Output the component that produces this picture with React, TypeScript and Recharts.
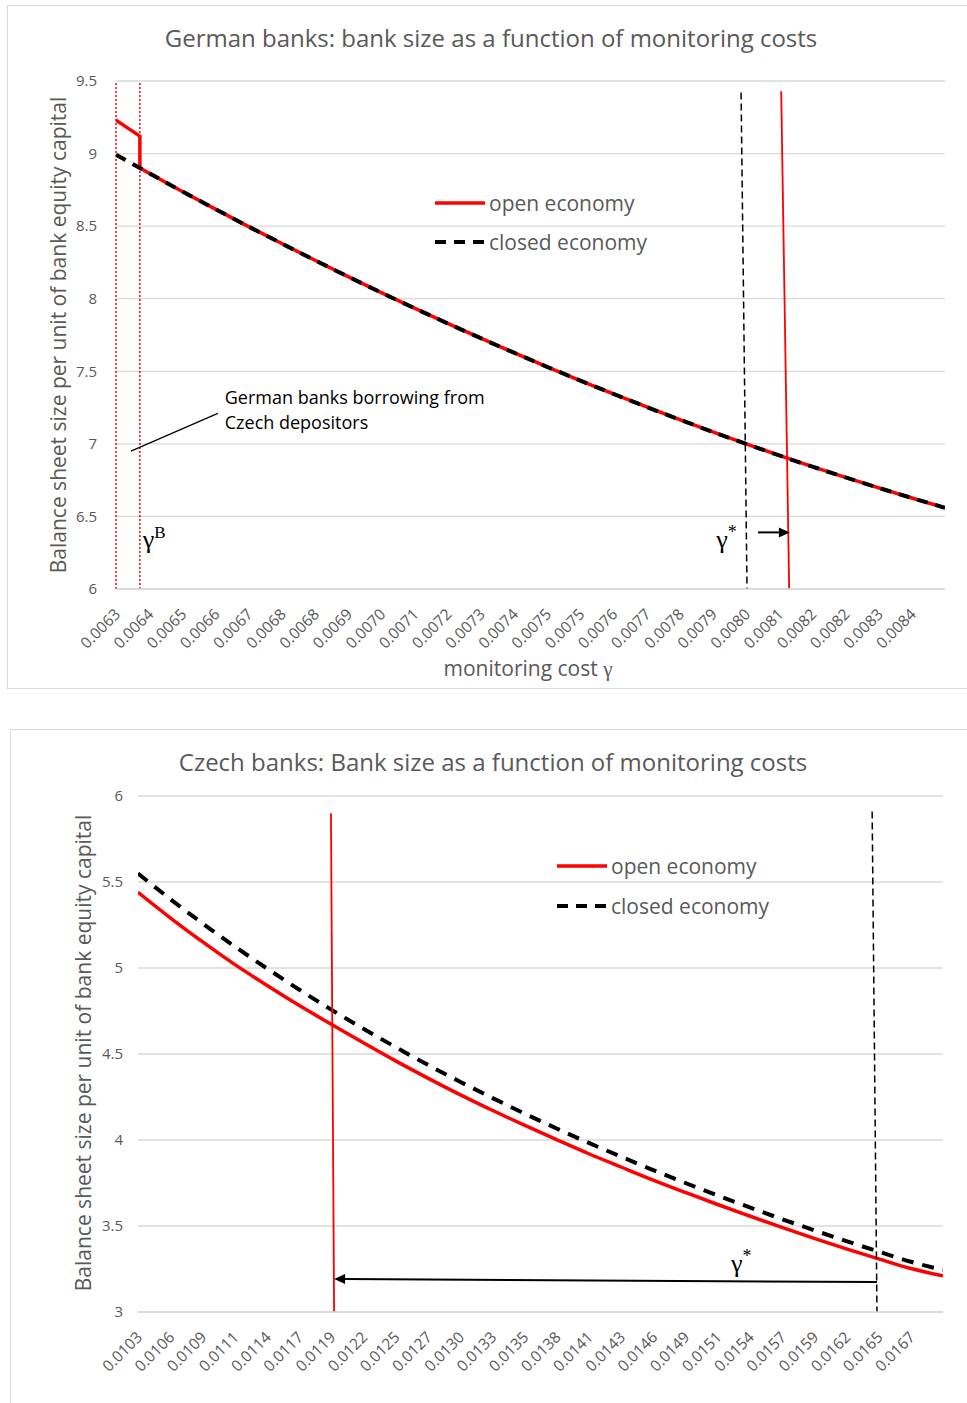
import React from 'react';
import {
  LineChart,
  Line,
  XAxis,
  YAxis,
  CartesianGrid,
  ReferenceLine,
  ReferenceDot,
  Legend,
} from 'recharts';

const SANS = '"Open Sans", Carlito, Lato, "Liberation Sans", sans-serif';
const SERIF = '"Liberation Serif", "DejaVu Serif", serif';
const INK = '#595959';
const GRID = '#d9d9d9';
const RED = '#ff0000';
const BLACK = '#000000';

// ---------- German banks ----------
const DE_GAMMA = [
  0.006318, 0.0064055, 0.006493, 0.0065805, 0.006668, 0.0067555, 0.006843,
  0.0069305, 0.007018, 0.0071055, 0.007193, 0.0072805, 0.007368, 0.0074555,
  0.007543, 0.0076305, 0.007718, 0.0078055, 0.007893, 0.0079805, 0.008068,
  0.0081555, 0.008243, 0.0083305, 0.008418, 0.0085055,
];
const DE_TICK_LABELS = [
  '0.0063', '0.0064', '0.0065', '0.0066', '0.0067', '0.0068', '0.0068',
  '0.0069', '0.0070', '0.0071', '0.0072', '0.0073', '0.0074', '0.0075',
  '0.0075', '0.0076', '0.0077', '0.0078', '0.0079', '0.0080', '0.0081',
  '0.0082', '0.0082', '0.0083', '0.0084',
];
const DE_CLOSED = [
  8.992, 8.865, 8.739, 8.617, 8.497, 8.38, 8.265, 8.152, 8.042, 7.935, 7.83,
  7.728, 7.628, 7.531, 7.436, 7.344, 7.254, 7.167, 7.082, 7.0, 6.92, 6.843,
  6.769, 6.697, 6.627, 6.56,
];
// open economy differs only below gamma^B, where it jumps down onto the closed curve
const DE_GAMMA_B = 0.006381;
const DE_OPEN_HEAD_GAMMA = [0.006318, DE_GAMMA_B, DE_GAMMA_B];
const DE_OPEN_HEAD = [9.23, 9.12, 8.9];
const DE_Y_TICKS = [6, 6.5, 7, 7.5, 8, 8.5, 9, 9.5];
// gamma* cut-offs: [gamma at top, size at top, gamma at bottom, size at bottom]
const DE_STAR_CLOSED = [0.0079674, 9.42, 0.0079831, 6];
const DE_STAR_OPEN = [0.0080733, 9.43, 0.0080943, 6];
const DE_SHIFT_ARROW = [0.0080123, 6.39, 0.0080961, 6.39];
const DE_NOTE_LEADER = [0.0063574, 6.95, 0.0065867, 7.21];
const DE_NOTE_AT = [0.006605, 7.32];
const DE_NOTE_LINES = ['German banks borrowing from', 'Czech depositors'];
const DE_GB_LABEL_AT = [0.0063889, 6.28];
const DE_GSTAR_LABEL_AT = [0.0079018, 6.28];

// ---------- Czech banks ----------
const CZ_GAMMA = [
  0.010334, 0.0106007, 0.0108673, 0.011134, 0.0114007, 0.0116673, 0.011934,
  0.0122007, 0.0124674, 0.012734, 0.0130007, 0.0132674, 0.013534, 0.0138007,
  0.0140674, 0.0143341, 0.0146007, 0.0148674, 0.0151341, 0.0154007, 0.0156674,
  0.0159341, 0.0162007, 0.0164674, 0.0167341, 0.0170008,
];
const CZ_TICK_LABELS = [
  '0.0103', '0.0106', '0.0109', '0.0111', '0.0114', '0.0117', '0.0119',
  '0.0122', '0.0125', '0.0127', '0.0130', '0.0133', '0.0135', '0.0138',
  '0.0141', '0.0143', '0.0146', '0.0149', '0.0151', '0.0154', '0.0157',
  '0.0159', '0.0162', '0.0165', '0.0167',
];
const CZ_CLOSED = [
  5.55, 5.401, 5.26, 5.126, 4.998, 4.875, 4.758, 4.647, 4.54, 4.437, 4.339,
  4.245, 4.154, 4.067, 3.983, 3.903, 3.825, 3.75, 3.678, 3.608, 3.54, 3.475,
  3.412, 3.351, 3.292, 3.245,
];
const CZ_OPEN = [
  5.44, 5.292, 5.153, 5.021, 4.9, 4.783, 4.673, 4.565, 4.46, 4.36, 4.264,
  4.173, 4.086, 4.002, 3.92, 3.843, 3.767, 3.695, 3.625, 3.558, 3.492, 3.428,
  3.367, 3.309, 3.253, 3.21,
];
const CZ_Y_TICKS = [3, 3.5, 4, 4.5, 5, 5.5, 6];
const CZ_STAR_OPEN = [0.011932, 5.9, 0.011958, 3];
const CZ_STAR_CLOSED = [0.016414, 5.91, 0.016454, 3];
const CZ_SHIFT_ARROW = [0.016454, 3.174, 0.011958, 3.192];
const CZ_GSTAR_LABEL_AT = [0.015246, 3.233];

const LEGEND_ITEMS = [
  { name: 'open economy', color: RED, dash: undefined as string | undefined },
  { name: 'closed economy', color: BLACK, dash: '11 8' },
];

const toPoints = (xs: number[], ys: number[]) => xs.map((g, i) => ({ g, v: ys[i] }));

const deClosedData = toPoints(DE_GAMMA, DE_CLOSED);
const deOpenData = [...toPoints(DE_OPEN_HEAD_GAMMA, DE_OPEN_HEAD), ...deClosedData.slice(1)];
const czClosedData = toPoints(CZ_GAMMA, CZ_CLOSED);
const czOpenData = toPoints(CZ_GAMMA, CZ_OPEN);

const seg = (s: number[]) => [
  { x: s[0], y: s[1] },
  { x: s[2], y: s[3] },
] as any;

const slantTick = (ticks: number[], labels: string[]) => (props: any) => {
  const { x, y, payload } = props;
  const i = ticks.indexOf(payload.value);
  const ax = x + 1;
  const ay = y + 14;
  return (
    <text
      x={ax}
      y={ay}
      transform={`rotate(-45 ${ax} ${ay})`}
      textAnchor="end"
      dominantBaseline="central"
      fill={INK}
      fontSize={15.5}
      fontFamily={SANS}
    >
      {labels[i]}
    </text>
  );
};

const arrowShape = (p: any) => {
  const { x1, y1, x2, y2 } = p;
  const a = Math.atan2(y2 - y1, x2 - x1);
  const L = 11;
  const W = 5;
  const bx = x2 - L * Math.cos(a);
  const by = y2 - L * Math.sin(a);
  const pts = `${x2},${y2} ${bx - W * Math.sin(a)},${by + W * Math.cos(a)} ${bx + W * Math.sin(a)},${by - W * Math.cos(a)}`;
  return (
    <g>
      <line x1={x1} y1={y1} x2={bx} y2={by} stroke={BLACK} strokeWidth={2} />
      <polygon points={pts} fill={BLACK} />
    </g>
  );
};

const gammaLabel = (sup: string) => (p: any) => (
  <text x={p.cx} y={p.cy} fontFamily={SERIF} fill={BLACK} fontSize={26}>
    <tspan>γ</tspan>
    <tspan dy={-10} fontSize={sup === '*' ? 18 : 17}>
      {sup}
    </tspan>
  </text>
);

const legendContent = (rowH: number) => () => (
  <div style={{ fontFamily: SANS, fontSize: 21, color: INK }}>
    {LEGEND_ITEMS.map((it) => (
      <div key={it.name} style={{ display: 'flex', alignItems: 'center', height: rowH, whiteSpace: 'nowrap' }}>
        <svg width={50} height={6} style={{ display: 'block' }}>
          <line x1={0} y1={3} x2={50} y2={3} stroke={it.color} strokeWidth={it.dash ? 4 : 3.5} strokeDasharray={it.dash} />
        </svg>
        <span style={{ marginLeft: 4 }}>{it.name}</span>
      </div>
    ))}
  </div>
);

const boxStyle = (left: number, top: number, w: number, h: number): React.CSSProperties => ({
  position: 'absolute',
  left,
  top,
  width: w,
  height: h,
  border: `1px solid ${GRID}`,
  boxSizing: 'border-box',
});

const textStyle = (left: number, top: number, size: number, rotate = false): React.CSSProperties => ({
  position: 'absolute',
  left,
  top,
  transform: `translate(-50%, -50%)${rotate ? ' rotate(-90deg)' : ''}`,
  whiteSpace: 'nowrap',
  fontFamily: SANS,
  fontSize: size,
  color: INK,
  lineHeight: 1,
});

function GermanChart() {
  return (
    <div style={{ position: 'absolute', left: 7, top: 5, width: 962, height: 683 }}>
      <LineChart width={962} height={683} margin={{ top: 76, right: 24, bottom: 0, left: 0 }}>
        <CartesianGrid vertical={false} stroke={GRID} strokeWidth={1.3} />
        <XAxis
          dataKey="g"
          type="number"
          domain={[DE_GAMMA[0], DE_GAMMA[DE_GAMMA.length - 1]]}
          ticks={DE_GAMMA.slice(0, DE_TICK_LABELS.length)}
          interval={0}
          allowDataOverflow
          height={99}
          tickLine={false}
          axisLine={{ stroke: GRID, strokeWidth: 1.3 }}
          tick={slantTick(DE_GAMMA, DE_TICK_LABELS)}
        />
        <YAxis
          type="number"
          domain={[6, 9.5]}
          ticks={DE_Y_TICKS}
          width={109}
          tickLine={false}
          axisLine={false}
          tickMargin={13}
          tick={{ fill: INK, fontSize: 15, fontFamily: SANS }}
        />
        <ReferenceLine x={DE_GAMMA[0]} stroke={RED} strokeWidth={1.5} strokeDasharray="2 2" />
        <ReferenceLine x={DE_GAMMA_B} stroke={RED} strokeWidth={1.5} strokeDasharray="2 2" />
        <Line data={deOpenData} dataKey="v" type="linear" stroke={RED} strokeWidth={3.5} dot={false} isAnimationActive={false} />
        <Line data={deClosedData} dataKey="v" type="monotone" stroke={BLACK} strokeWidth={4} strokeDasharray="11 8" dot={false} isAnimationActive={false} />
        <ReferenceLine segment={seg(DE_STAR_CLOSED)} stroke={BLACK} strokeWidth={1.5} strokeDasharray="7 4" />
        <ReferenceLine segment={seg(DE_STAR_OPEN)} stroke={RED} strokeWidth={1.8} />
        <ReferenceLine segment={seg(DE_SHIFT_ARROW)} shape={arrowShape} />
        <ReferenceLine segment={seg(DE_NOTE_LEADER)} stroke={BLACK} strokeWidth={1.2} />
        <ReferenceDot
          x={DE_NOTE_AT[0]}
          y={DE_NOTE_AT[1]}
          r={0}
          shape={(p: any) => (
            <text x={p.cx} y={p.cy} fontFamily={SANS} fontSize={18} fill={BLACK} dominantBaseline="central">
              <tspan x={p.cx}>{DE_NOTE_LINES[0]}</tspan>
              <tspan x={p.cx} dy={25}>
                {DE_NOTE_LINES[1]}
              </tspan>
            </text>
          )}
        />
        <ReferenceDot x={DE_GB_LABEL_AT[0]} y={DE_GB_LABEL_AT[1]} r={0} shape={gammaLabel('B')} />
        <ReferenceDot x={DE_GSTAR_LABEL_AT[0]} y={DE_GSTAR_LABEL_AT[1]} r={0} shape={gammaLabel('*')} />
        <Legend
          layout="vertical"
          align="center"
          verticalAlign="middle"
          content={legendContent(39)}
          wrapperStyle={{ left: 428, top: 178, width: 280, height: 80 }}
        />
      </LineChart>
    </div>
  );
}

function CzechChart() {
  return (
    <div style={{ position: 'absolute', left: 10, top: 729, width: 962, height: 680 }}>
      <LineChart width={962} height={680} margin={{ top: 67, right: 29, bottom: 0, left: 0 }}>
        <CartesianGrid vertical={false} stroke={GRID} strokeWidth={1.3} />
        <XAxis
          dataKey="g"
          type="number"
          domain={[CZ_GAMMA[0], CZ_GAMMA[CZ_GAMMA.length - 1]]}
          ticks={CZ_GAMMA.slice(0, CZ_TICK_LABELS.length)}
          interval={0}
          allowDataOverflow
          height={97}
          tickLine={false}
          axisLine={{ stroke: GRID, strokeWidth: 1.3 }}
          tick={slantTick(CZ_GAMMA, CZ_TICK_LABELS)}
        />
        <YAxis
          type="number"
          domain={[3, 6]}
          ticks={CZ_Y_TICKS}
          width={128}
          tickLine={false}
          axisLine={false}
          tickMargin={9}
          tick={{ fill: INK, fontSize: 15, fontFamily: SANS }}
        />
        <Line data={czOpenData} dataKey="v" type="monotone" stroke={RED} strokeWidth={3.5} dot={false} isAnimationActive={false} />
        <Line data={czClosedData} dataKey="v" type="monotone" stroke={BLACK} strokeWidth={4} strokeDasharray="12 9" dot={false} isAnimationActive={false} />
        <ReferenceLine segment={seg(CZ_STAR_OPEN)} stroke={RED} strokeWidth={1.8} />
        <ReferenceLine segment={seg(CZ_STAR_CLOSED)} stroke={BLACK} strokeWidth={1.5} strokeDasharray="7 4" />
        <ReferenceLine segment={seg(CZ_SHIFT_ARROW)} shape={arrowShape} />
        <ReferenceDot x={CZ_GSTAR_LABEL_AT[0]} y={CZ_GSTAR_LABEL_AT[1]} r={0} shape={gammaLabel('*')} />
        <Legend
          layout="vertical"
          align="center"
          verticalAlign="middle"
          content={legendContent(40)}
          wrapperStyle={{ left: 547, top: 117, width: 280, height: 80 }}
        />
      </LineChart>
    </div>
  );
}

export default function App() {
  return (
    <div style={{ position: 'absolute', left: 0, top: 0, width: 967, height: 1403, overflow: 'hidden', background: '#fff' }}>
      <div style={boxStyle(7, 5, 965, 684)} />
      <div style={boxStyle(10, 729, 965, 690)} />
      <GermanChart />
      <CzechChart />
      <div style={textStyle(491, 38, 24)}>German banks: bank size as a function of monitoring costs</div>
      <div style={textStyle(58, 335, 21, true)}>Balance sheet size per unit of bank equity capital</div>
      <div style={textStyle(528, 669, 21)}>
        monitoring cost <span style={{ fontFamily: SERIF }}>γ</span>
      </div>
      <div style={textStyle(493, 762, 24)}>Czech banks: Bank size as a function of monitoring costs</div>
      <div style={textStyle(83, 1053, 21, true)}>Balance sheet size per unit of bank equity capital</div>
    </div>
  );
}
